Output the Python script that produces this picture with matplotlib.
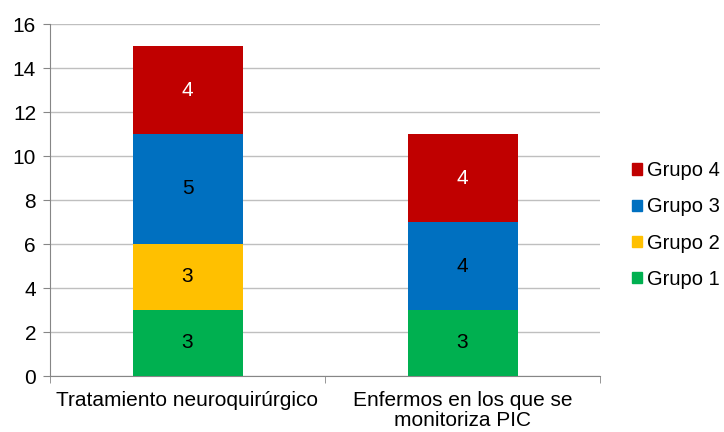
import matplotlib.pyplot as plt
import numpy as np
from matplotlib.patches import Patch

plt.rcParams['font.family'] = ['Liberation Sans', 'DejaVu Sans']

# datos
categorias = ["Tratamiento neuroquirúrgico", "Enfermos en los que se\nmonitoriza PIC"]
grupos = ["Grupo 1", "Grupo 2", "Grupo 3", "Grupo 4"]
grupo1 = [3, 3]
grupo2 = [3, 0]
grupo3 = [5, 4]
grupo4 = [4, 4]
colores = ["#00B050", "#FFC000", "#0070C0", "#C00000"]
color_texto = ["black", "black", "black", "white"]

fig = plt.figure(figsize=(7.24, 4.32), dpi=100)
ax = fig.add_axes([50 / 724, 56 / 432, 550 / 724, 352 / 432])

x = np.arange(len(categorias))
base = np.zeros(len(categorias))
for serie, col, tc in zip([grupo1, grupo2, grupo3, grupo4], colores, color_texto):
    vals = np.array(serie, dtype=float)
    ax.bar(x, vals, 0.4, bottom=base, color=col, zorder=3)
    for xi, v, b in zip(x, vals, base):
        if v > 0:
            ax.text(xi, b + v / 2, f"{int(v)}", ha="center", va="center",
                    color=tc, fontsize=15, zorder=4)
    base += vals

ax.set_xlim(-0.5, 1.5)
ax.set_ylim(0, 16)
ax.set_yticks(range(0, 17, 2))
ax.yaxis.grid(True, color="#BFBFBF", linewidth=1, zorder=0)
ax.set_xticks(x)
ax.set_xticklabels(categorias, fontsize=15, linespacing=1.08)
ax.set_xticks([-0.5, 0.5, 1.5], minor=True)
ax.tick_params(axis="x", which="major", length=0, pad=11)
ax.tick_params(axis="x", which="minor", length=5, color="#868686")
ax.tick_params(axis="y", length=5, color="#868686", labelsize=15, pad=5)
for s in ["top", "right"]:
    ax.spines[s].set_visible(False)
for s in ["left", "bottom"]:
    ax.spines[s].set_color("#868686")

handles = [Patch(color=c) for c in colores][::-1]
fig.legend(handles, grupos[::-1], loc="center left", bbox_to_anchor=(632 / 724, 1 - 225 / 432),
           frameon=False, fontsize=14.5, handlelength=0.5, handleheight=0.5,
           handletextpad=0.25, labelspacing=0.85, borderpad=0, borderaxespad=0)

fig.savefig("out.png", dpi=100)
